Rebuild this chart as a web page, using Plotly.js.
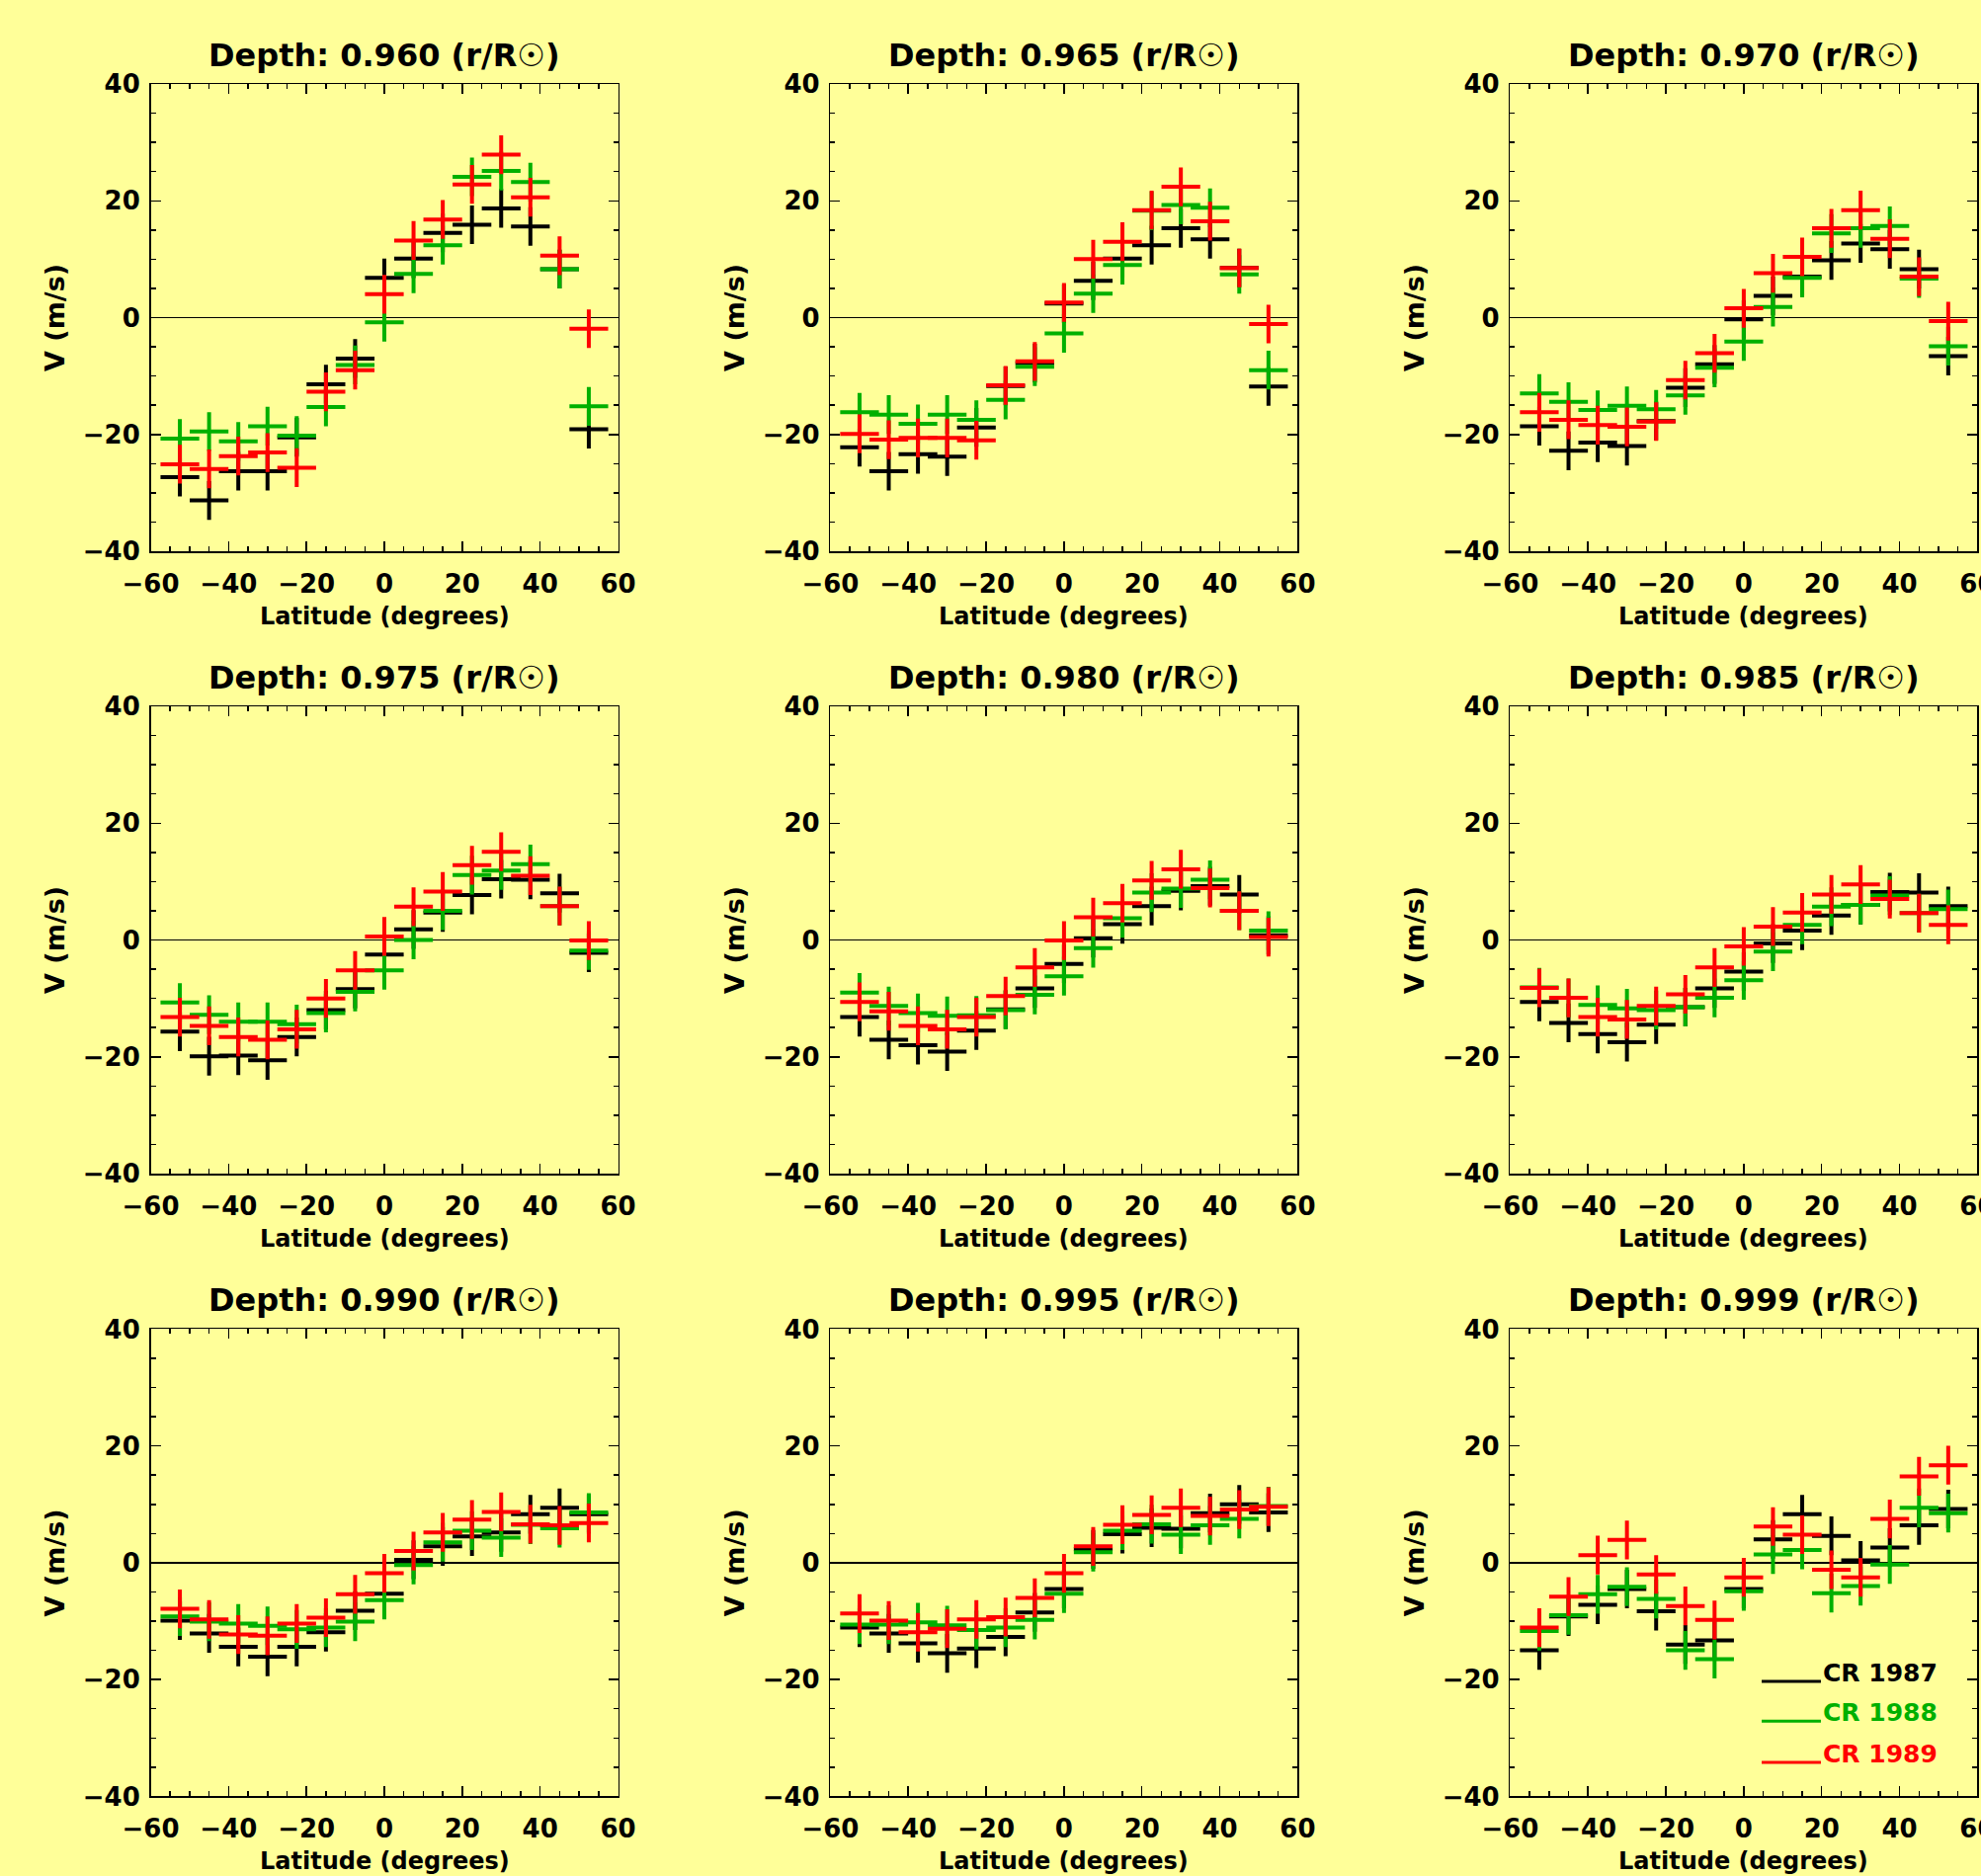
<!DOCTYPE html>
<html>
<head>
<meta charset="utf-8">
<script src="https://cdn.plot.ly/plotly-3.0.1.min.js"></script>
<style>
  html, body { margin: 0; padding: 0; background: #ffff99; }
  #chart { width: 2005px; height: 1899px; }
</style>
</head>
<body>
<div id="chart"></div>
<script>
// ---------------- DATA ----------------
const latitudes = [-52.5, -45, -37.5, -30, -22.5, -15, -7.5, 0, 7.5, 15, 22.5, 30, 37.5, 45, 52.5];
const depthLabels = ['0.960', '0.965', '0.970', '0.975', '0.980', '0.985', '0.990', '0.995', '0.999'];
const seriesNames = ['CR 1987', 'CR 1988', 'CR 1989'];
const xTickValues = [-60, -40, -20, 0, 20, 40, 60];
const yTickValues = [-40, -20, 0, 20, 40];

// Depth 0.960
const d960_cr1987 = [-27.3, -31.3, -26.3, -26.3, -20.5, -11.4, -7.0, 6.8, 10.1, 14.5, 15.9, 18.7, 15.6, 8.3, -19.1];
const d960_cr1988 = [-20.7, -19.5, -21.2, -18.6, -20.2, -15.3, -8.1, -0.8, 7.5, 12.4, 24.1, 25.1, 23.2, 8.3, -15.2];
const d960_cr1989 = [-25.1, -25.9, -23.7, -23.1, -25.7, -12.7, -9.0, 4.0, 13.2, 16.8, 22.8, 27.9, 20.6, 10.6, -1.9];
// Depth 0.965
const d965_cr1987 = [-22.2, -26.3, -23.4, -23.8, -18.8, -11.7, -7.8, 2.4, 6.3, 10.1, 12.4, 15.3, 13.4, 8.5, -11.8];
const d965_cr1988 = [-16.2, -16.6, -18.2, -16.6, -17.5, -14.1, -8.4, -2.7, 4.1, 9.0, 18.3, 19.3, 18.8, 7.4, -9.0];
const d965_cr1989 = [-19.9, -20.9, -20.6, -20.6, -21.0, -11.6, -7.5, 2.6, 10.0, 13.0, 18.4, 22.4, 16.5, 8.5, -1.1];
// Depth 0.970
const d970_cr1987 = [-18.6, -22.8, -21.4, -22.0, -17.7, -12.0, -8.0, -0.3, 3.7, 7.0, 9.8, 12.7, 11.7, 8.3, -6.6];
const d970_cr1988 = [-13.0, -14.4, -15.8, -15.1, -15.7, -13.3, -8.6, -4.1, 1.8, 6.8, 14.4, 15.3, 15.7, 6.7, -4.9];
const d970_cr1989 = [-16.2, -17.5, -18.4, -18.7, -17.8, -10.7, -6.1, 1.6, 7.6, 10.4, 15.3, 18.4, 13.5, 7.0, -0.6];
// Depth 0.975
const d975_cr1987 = [-15.7, -19.9, -19.8, -20.6, -16.6, -12.0, -8.4, -2.5, 1.8, 4.7, 7.7, 10.4, 10.3, 8.0, -2.2];
const d975_cr1988 = [-10.7, -12.8, -14.0, -14.0, -14.4, -12.5, -8.9, -5.2, 0.0, 5.0, 11.1, 11.9, 13.0, 5.8, -1.8];
const d975_cr1989 = [-13.2, -14.7, -16.6, -17.1, -15.3, -10.0, -5.2, 0.6, 5.7, 8.3, 12.8, 15.1, 11.0, 5.8, -0.1];
// Depth 0.980
const d980_cr1987 = [-13.2, -17.1, -18.0, -19.1, -15.5, -11.9, -8.3, -4.1, 0.3, 2.7, 5.8, 8.4, 9.2, 7.8, 0.8];
const d980_cr1988 = [-9.0, -11.3, -12.5, -13.0, -12.9, -12.0, -9.4, -6.2, -1.4, 3.7, 8.1, 8.8, 10.3, 5.0, 1.6];
const d980_cr1989 = [-10.6, -12.2, -14.7, -15.3, -13.2, -9.6, -4.7, -0.1, 3.9, 6.3, 10.2, 12.1, 8.9, 5.0, 0.5];
// Depth 0.985
const d985_cr1987 = [-10.6, -14.2, -16.1, -17.5, -14.5, -11.5, -8.3, -5.4, -0.6, 1.6, 4.2, 6.0, 8.2, 8.1, 5.8];
const d985_cr1988 = [-8.1, -9.9, -11.1, -11.7, -12.0, -11.5, -9.9, -6.9, -2.0, 2.6, 5.7, 6.0, 7.6, 4.6, 5.3];
const d985_cr1989 = [-8.2, -9.9, -13.2, -13.6, -11.3, -9.3, -4.7, -1.1, 2.3, 4.7, 7.8, 9.5, 7.0, 4.6, 2.6];
// Depth 0.990
const d990_cr1987 = [-9.9, -12.1, -14.4, -16.1, -14.4, -11.9, -8.2, -5.3, 0.5, 2.8, 4.5, 5.2, 8.3, 9.4, 8.3];
const d990_cr1988 = [-9.2, -10.1, -10.4, -10.8, -11.4, -11.1, -10.1, -6.4, -0.4, 3.5, 5.5, 4.3, 6.5, 5.9, 8.6];
const d990_cr1989 = [-7.9, -9.7, -12.3, -12.5, -10.4, -9.4, -5.4, -1.8, 2.0, 5.2, 7.4, 8.7, 6.6, 6.4, 6.8];
// Depth 0.995
const d995_cr1987 = [-11.1, -12.1, -13.8, -15.5, -14.7, -12.7, -8.5, -4.5, 2.3, 4.9, 6.0, 5.8, 8.5, 10.0, 8.6];
const d995_cr1988 = [-10.6, -10.6, -10.2, -10.7, -11.5, -11.1, -9.8, -5.3, 1.8, 5.5, 6.6, 4.8, 6.4, 7.5, 9.7];
const d995_cr1989 = [-8.7, -9.9, -11.9, -11.3, -9.7, -9.3, -6.0, -1.8, 2.8, 6.5, 8.2, 9.4, 8.0, 9.1, 9.6];
// Depth 0.999
const d999_cr1987 = [-15.0, -9.2, -7.2, -4.5, -8.3, -14.0, -13.3, -4.5, 4.0, 8.3, 4.6, 0.4, 2.6, 6.4, 9.2];
const d999_cr1988 = [-11.7, -9.0, -5.4, -4.1, -6.2, -15.0, -16.5, -4.9, 1.4, 2.2, -5.2, -4.0, -0.3, 9.4, 8.5];
const d999_cr1989 = [-11.1, -5.8, 1.3, 3.9, -2.0, -7.4, -9.8, -2.5, 6.2, 4.8, -1.2, -2.5, 7.5, 14.8, 16.7];

// ---------------- BUILD ----------------
const panelData = [
  [d960_cr1987, d960_cr1988, d960_cr1989],
  [d965_cr1987, d965_cr1988, d965_cr1989],
  [d970_cr1987, d970_cr1988, d970_cr1989],
  [d975_cr1987, d975_cr1988, d975_cr1989],
  [d980_cr1987, d980_cr1988, d980_cr1989],
  [d985_cr1987, d985_cr1988, d985_cr1989],
  [d990_cr1987, d990_cr1988, d990_cr1989],
  [d995_cr1987, d995_cr1988, d995_cr1989],
  [d999_cr1987, d999_cr1988, d999_cr1989]
];

const W = 2005, H = 1899;
const BG = '#ffff99';
const colors = ['#000000', '#00b000', '#ff0000'];
const FONT = 'DejaVu Sans, Verdana, sans-serif';
const colLeft = [152.5, 840.4, 1528.4];
const rowTop = [85, 715, 1345.4];
const SIZE = 473;

const traces = [];
const layout = {
  width: W, height: H,
  margin: {l: 0, r: 0, t: 0, b: 0},
  paper_bgcolor: BG, plot_bgcolor: BG,
  showlegend: false,
  font: {family: FONT, size: 24, color: '#000', weight: 700},
  annotations: [],
  shapes: []
};

for (let p = 0; p < 9; p++) {
  const r = Math.floor(p / 3), c = p % 3;
  const sfx = p === 0 ? '' : String(p + 1);
  const xl = colLeft[c], yt = rowTop[r];
  const x0 = xl / W, x1 = (xl + SIZE) / W;
  const y1 = 1 - yt / H, y0 = 1 - (yt + SIZE) / H;
  const axCommon = {
    ticks: 'inside', ticklen: 10, tickwidth: 1.5, tickcolor: '#000',
    mirror: 'allticks', showline: true, linecolor: '#000', linewidth: 1.5,
    showgrid: false, tickmode: 'array', ticklabeloverflow: 'allow',
    tickfont: {family: FONT, size: 26, color: '#000', weight: 700},
    minor: {ticks: 'inside', ticklen: 5, tickwidth: 1.5, tickcolor: '#000', dtick: 5, tick0: 0, showgrid: false},
    fixedrange: true
  };
  layout['xaxis' + sfx] = Object.assign({}, axCommon, {
    domain: [x0, x1], anchor: 'y' + sfx, range: [-60, 60],
    tickvals: xTickValues, zeroline: false, ticklabelstandoff: 9
  });
  layout['yaxis' + sfx] = Object.assign({}, axCommon, {
    domain: [y0, y1], anchor: 'x' + sfx, range: [-40, 40],
    tickvals: yTickValues, zeroline: true, zerolinecolor: '#000', zerolinewidth: 1.5,
    ticklabelstandoff: 4
  });
  for (let s = 0; s < 3; s++) {
    traces.push({
      type: 'scatter', mode: 'markers',
      x: latitudes, y: panelData[p][s],
      xaxis: 'x' + sfx, yaxis: 'y' + sfx,
      name: seriesNames[s],
      marker: {symbol: 'cross-thin', size: 28, color: colors[s], line: {color: colors[s], width: 4}},
      cliponaxis: false, hoverinfo: 'skip'
    });
  }
  // panel title
  layout.annotations.push({
    text: 'Depth: ' + depthLabels[p] + ' (r/R\u2609)',
    xref: 'paper', yref: 'paper',
    x: (xl + SIZE / 2) / W, y: 1 - (yt - 29) / H,
    xanchor: 'center', yanchor: 'middle', showarrow: false,
    font: {family: FONT, size: 32, color: '#000', weight: 700}
  });
  // x title
  layout.annotations.push({
    text: 'Latitude (degrees)',
    xref: 'paper', yref: 'paper',
    x: (xl + SIZE / 2) / W, y: 1 - (yt + SIZE + 66) / H,
    xanchor: 'center', yanchor: 'middle', showarrow: false,
    font: {family: FONT, size: 24, color: '#000', weight: 700}
  });
  // y title
  layout.annotations.push({
    text: 'V (m/s)', textangle: -90,
    xref: 'paper', yref: 'paper',
    x: (xl - 97) / W, y: 1 - (yt + SIZE / 2) / H,
    xanchor: 'center', yanchor: 'middle', showarrow: false,
    font: {family: FONT, size: 27, color: '#000', weight: 700}
  });
}

// legend in last panel (data coordinates of panel 9)
const legendY = [-20.3, -27.1, -34.2];
for (let s = 0; s < 3; s++) {
  layout.shapes.push({
    type: 'line', xref: 'x9', yref: 'y9',
    x0: 4.6, x1: 19.8, y0: legendY[s], y1: legendY[s],
    line: {color: colors[s], width: 3}
  });
  layout.annotations.push({
    text: seriesNames[s], xref: 'x9', yref: 'y9',
    x: 19.8, y: legendY[s] + 1.4, xanchor: 'left', yanchor: 'middle',
    showarrow: false,
    font: {family: FONT, size: 25, color: colors[s], weight: 700}
  });
}

Plotly.newPlot('chart', traces, layout, {staticPlot: true, displayModeBar: false});
</script>
</body>
</html>
